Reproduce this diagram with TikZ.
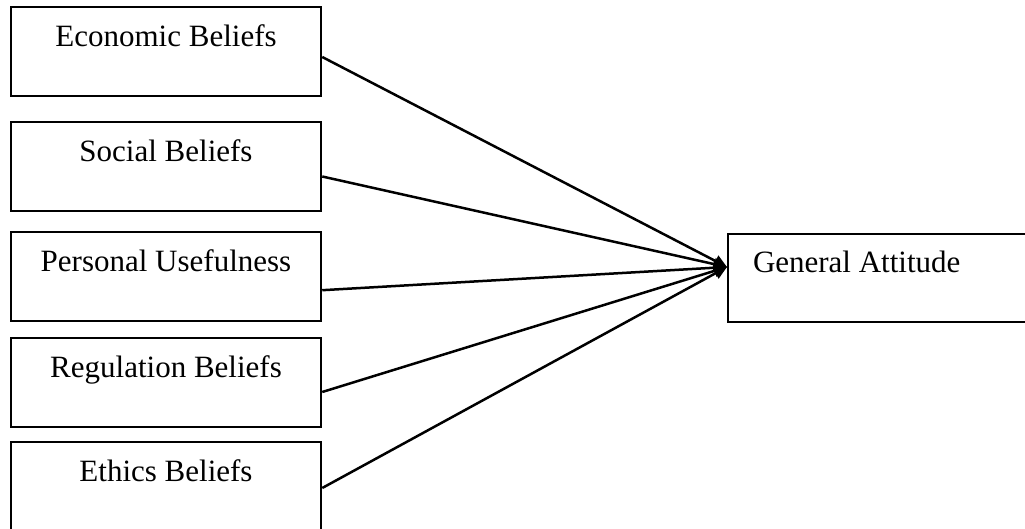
\documentclass[tikz,border=0pt]{standalone}
\usepackage{fontspec}
\setmainfont{Liberation Serif}
\usepackage{tikz}
\tikzset{every picture/.style={font issue=\fontsize{15.5}{18}},
         font issue/.style={execute at begin picture={#1\selectfont}}
        }
\usetikzlibrary{arrows.meta}
\usetikzlibrary{positioning}
\tikzstyle{belief}=[draw,rectangle,line width=1pt,inner sep=0,text width=155.25pt,align=flush center,text height=19.5pt,text depth=25pt]
\tikzstyle{outcome}=[draw,rectangle,line width=1pt,inner xsep=12.5pt,inner ysep=0,text width=130pt,align=flush left,text height=19.5pt,text depth=24.5pt]
\tikzstyle{link} = [line width=1.25pt,-{Triangle[length=6.5pt,width=6pt]}]

\begin{document}
\begin{tikzpicture}[x=0.5pt,y=-0.5pt]
\useasboundingbox (0,0) rectangle (1025,529);
\clip (0,0) rectangle (1025,529);
	\node[belief] (eco) at (166,52) {Economic Beliefs};
	\node[belief] (soc) at (166,167) {Social Beliefs};
	\node[belief] (use) at (166,277) {Personal Usefulness};
	\node[belief] (reg) at (166,383) {Regulation Beliefs};
	\node[belief] (eth) at (166,487) {Ethics Beliefs};

	\node[outcome,anchor=north west] (att) at (727,233) {General Attitude};
	\coordinate (hub) at ([yshift=5.5pt]att.west);

	\path[link] ([yshift=-2.5pt]eco.east) edge (hub);
	\path[link] ([yshift=-4.75pt]soc.east) edge (hub);
	\path[link] ([yshift=-6.6pt]use.east) edge (hub);
	\path[link] ([yshift=-4.5pt]reg.east) edge (hub);
	\path[link] ([yshift=-0.5pt]eth.east) edge (hub);
\end{tikzpicture}
\end{document}
